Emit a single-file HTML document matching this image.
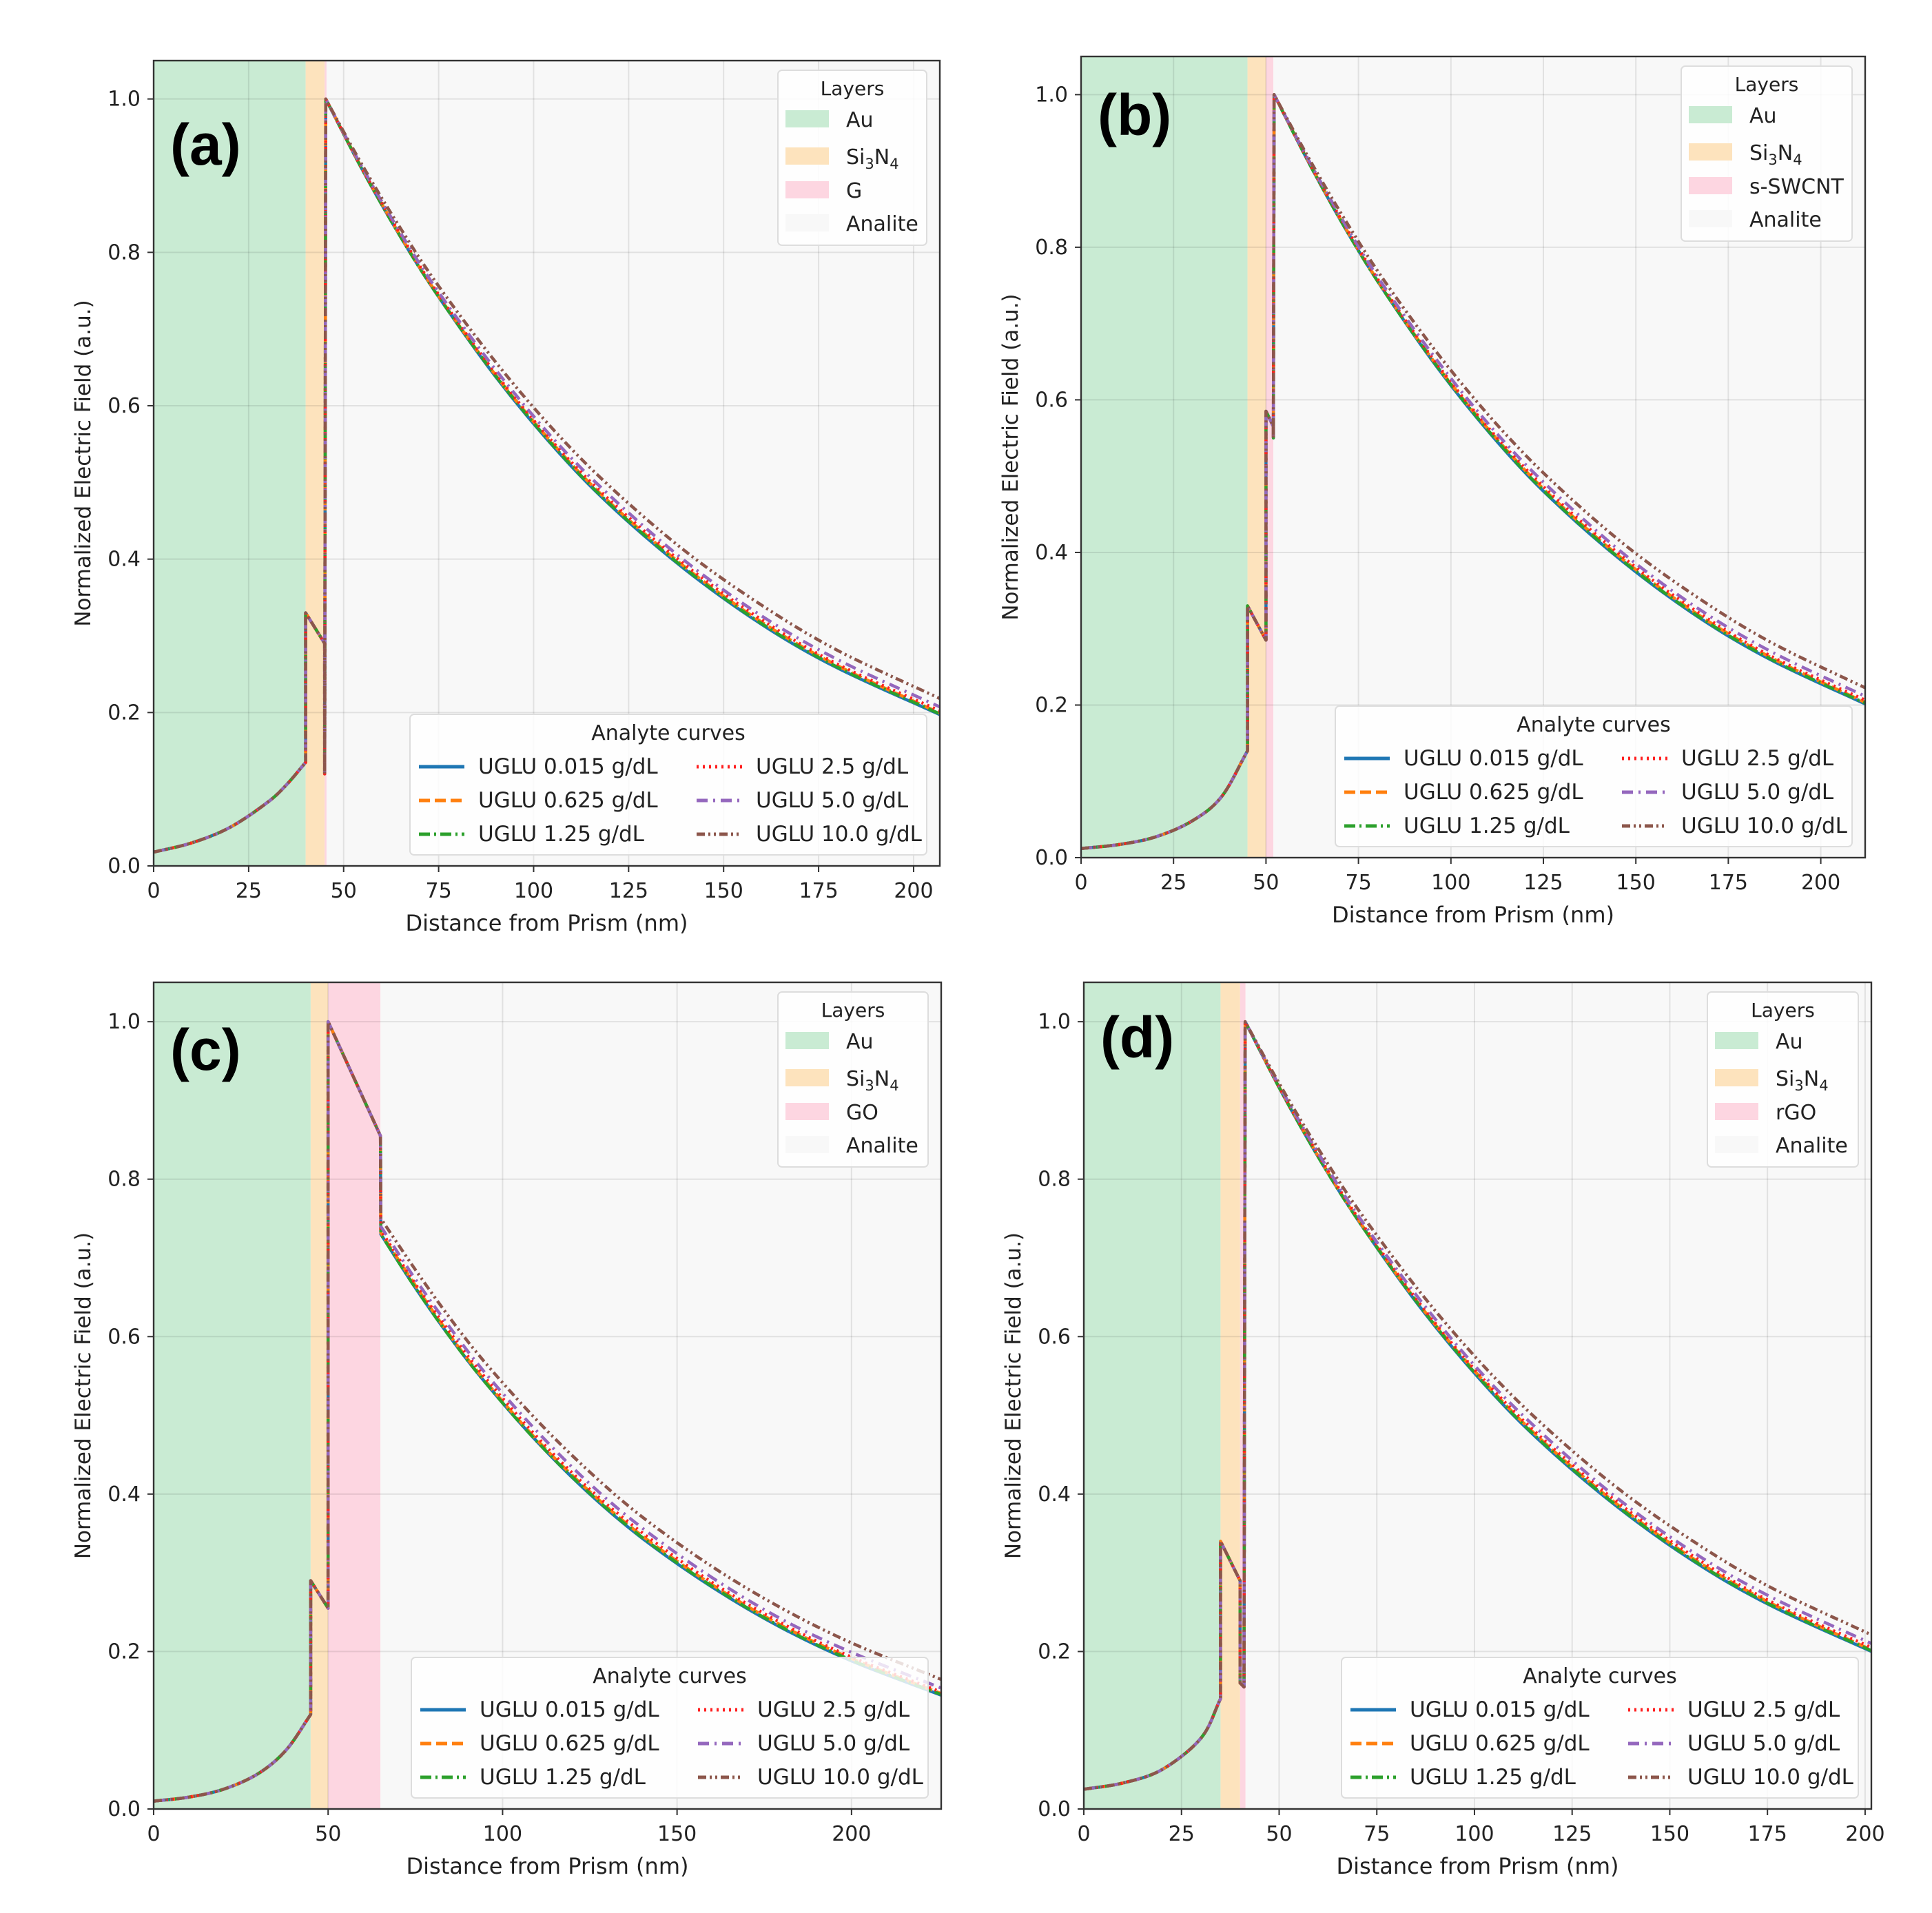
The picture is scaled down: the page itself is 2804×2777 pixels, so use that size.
<!DOCTYPE html>
<html><head><meta charset="utf-8">
<style>
html,body{margin:0;padding:0;background:#fff;}
svg{display:block;}
text{font-family:"DejaVu Sans","Liberation Sans",sans-serif;fill:#222;}
</style></head>
<body>
<svg id="fig" xmlns="http://www.w3.org/2000/svg" width="2804" height="2777" viewBox="0 0 2804 2777"></svg>
<script>
// ---------------- data ----------------
const seriesNames = ["UGLU 0.015 g/dL","UGLU 0.625 g/dL","UGLU 1.25 g/dL","UGLU 2.5 g/dL","UGLU 5.0 g/dL","UGLU 10.0 g/dL"];
const yTicks = [0.0,0.2,0.4,0.6,0.8,1.0];
const yTickLabels = ["0.0","0.2","0.4","0.6","0.8","1.0"];
const decayBlue   = [1,0.907,0.820,0.742,0.638,0.548,0.471,0.386,0.315,0.258,0.197];
const decayOrange = [1,0.908,0.821,0.743,0.640,0.551,0.474,0.389,0.318,0.261,0.199];
const decayGreen  = [1,0.907,0.820,0.742,0.639,0.549,0.472,0.387,0.316,0.259,0.198];
const decayRed    = [1,0.908,0.823,0.745,0.642,0.553,0.477,0.392,0.321,0.263,0.202];
const decayPurple = [1,0.910,0.825,0.748,0.647,0.558,0.483,0.397,0.326,0.269,0.207];
const decayBrown  = [1,0.913,0.831,0.756,0.657,0.570,0.495,0.410,0.340,0.281,0.218];
const cBlue   = [0.730,0.662,0.599,0.542,0.466,0.400,0.344,0.282,0.230,0.188,0.144];
const cOrange = [0.732,0.665,0.601,0.544,0.468,0.403,0.347,0.285,0.233,0.191,0.146];
const cGreen  = [0.730,0.662,0.599,0.542,0.466,0.401,0.345,0.283,0.231,0.189,0.145];
const cRed    = [0.735,0.667,0.605,0.548,0.472,0.406,0.351,0.288,0.236,0.193,0.148];
const cPurple = [0.740,0.673,0.611,0.554,0.479,0.413,0.357,0.294,0.241,0.199,0.153];
const cBrown  = [0.750,0.685,0.623,0.567,0.493,0.428,0.371,0.308,0.255,0.211,0.164];
const aPreX = [0,10,20,30,35,40,40,45,45];
const aPreY = [0.018,0.030,0.050,0.083,0.106,0.135,0.33,0.29,0.12];
const aDecayX = [45.3,55,65,75,90,105,120,140,160,180,207];
const aLayers = [0,40,45,45.5];
const aXTicks = [0,25,50,75,100,125,150,175,200];
const bPreX = [0,10,20,30,38,45,45,50,50,52,52];
const bPreY = [0.012,0.017,0.027,0.048,0.08,0.14,0.33,0.285,0.585,0.565,0.55];
const bDecayX = [52.2,62,72,82,97,112,127,147,167,187,214];
const bLayers = [0,45,50,52];
const bXTicks = [0,25,50,75,100,125,150,175,200];
const cPreX = [0,10,20,30,38,45,45,50,50,65];
const cPreY = [0.010,0.015,0.025,0.045,0.075,0.12,0.29,0.255,1.0,0.855];
const cDecayX = [65.1,75,85,95,110,125,140,160,180,200,226];
const cLayers = [0,45,50,65];
const cXTicks = [0,50,100,150,200];
const dPreX = [0,10,20,30,35,35,40,40,41];
const dPreY = [0.025,0.033,0.050,0.090,0.14,0.34,0.29,0.16,0.155];
const dDecayX = [41.3,51,61,71,86,101,116,136,156,176,203];
const dLayers = [0,35,40,41.4];
const dXTicks = [0,25,50,75,100,125,150,175,200];

const colors = ["#1f77b4","#ff7f0e","#2ca02c","#ff2020","#9467bd","#8c564b"];
const dashes = ["", "16,7", "16,6,3,6", "3,6", "16,8,3,8", "12,5,3,5,3,5"];
const NS = "http://www.w3.org/2000/svg";
const fig = document.getElementById('fig');
function mk(tag, attrs, parent, txt){
  const e = document.createElementNS(NS, tag);
  for (const k in attrs) e.setAttribute(k, attrs[k]);
  if (txt !== undefined) e.textContent = txt;
  (parent||fig).appendChild(e);
  return e;
}

const panels = [
 {id:"a", L:223, R:1364, T:88, B:1257, xmax:206.9, preX:aPreX, preY:aPreY, dx:aDecayX,
  dec:[decayBlue,decayOrange,decayGreen,decayRed,decayPurple,decayBrown], layers:aLayers, xt:aXTicks,
  third:"G", lw:216, letterY:121},
 {id:"b", L:1569, R:2707, T:82, B:1245, xmax:212, preX:bPreX, preY:bPreY, dx:bDecayX,
  dec:[decayBlue,decayOrange,decayGreen,decayRed,decayPurple,decayBrown], layers:bLayers, xt:bXTicks,
  third:"s-SWCNT", lw:248, letterY:84},
 {id:"c", L:223, R:1366, T:1426, B:2626, xmax:225.7, preX:cPreX, preY:cPreY, dx:cDecayX,
  dec:[cBlue,cOrange,cGreen,cRed,cPurple,cBrown], layers:cLayers, xt:cXTicks,
  third:"GO", lw:218, letterY:97},
 {id:"d", L:1573, R:2716, T:1426, B:2626, xmax:201.6, preX:dPreX, preY:dPreY, dx:dDecayX,
  dec:[decayBlue,decayOrange,decayGreen,decayRed,decayPurple,decayBrown], layers:dLayers, xt:dXTicks,
  third:"rGO", lw:219, letterY:79}
];

function pathFrom(pts){
  let d = "M"+pts[0][0].toFixed(1)+","+pts[0][1].toFixed(1);
  const smooth = (i)=> i>=0 && i<pts.length-1 && (pts[i+1][0]-pts[i][0])>6;
  for (let i=0;i<pts.length-1;i++){
    const p0=pts[i], p1=pts[i+1];
    if (!smooth(i)){ d += "L"+p1[0].toFixed(1)+","+p1[1].toFixed(1); continue; }
    const pa = smooth(i-1)?pts[i-1]:p0;
    const pb = smooth(i+1)?pts[i+2]:p1;
    const f0 = (pa===p0)?3:6, f1=(pb===p1)?3:6;
    const c1=[p0[0]+(p1[0]-pa[0])/f0, p0[1]+(p1[1]-pa[1])/f0];
    const c2=[p1[0]-(pb[0]-p0[0])/f1, p1[1]-(pb[1]-p0[1])/f1];
    d += "C"+c1[0].toFixed(1)+","+c1[1].toFixed(1)+" "+c2[0].toFixed(1)+","+c2[1].toFixed(1)+" "+p1[0].toFixed(1)+","+p1[1].toFixed(1);
  }
  return d;
}

panels.forEach(P=>{
  const ymax = 1.05;
  const sx = v => P.L + (v/P.xmax)*(P.R-P.L);
  const sy = v => P.B - (v/ymax)*(P.B-P.T);
  const g = mk('g',{});
  
  
  const clipId = 'clip'+P.id;
  const cp = mk('clipPath',{id:clipId}, g);
  mk('rect',{x:P.L,y:P.T,width:P.R-P.L,height:P.B-P.T}, cp);
  const bandCols = ["#c9ebd3","#fde3bd","#fdd6e1","#f8f8f8"];
  const bandNames = ["au-band","si3n4-band","third-layer-band","analyte-band"];
  const edges = [P.layers[0],P.layers[1],P.layers[2],P.layers[3],P.xmax];
  for (let i=0;i<4;i++){
    const r = mk('rect',{x:sx(edges[i]),y:P.T,width:Math.max(0,sx(edges[i+1])-sx(edges[i])),height:P.B-P.T,fill:bandCols[i]}, g);
    
    
  }
  P.xt.forEach(t=>{ mk('line',{x1:sx(t),x2:sx(t),y1:P.T,y2:P.B,stroke:"#000","stroke-opacity":0.09,"stroke-width":2}, g); });
  yTicks.forEach(t=>{ mk('line',{x1:P.L,x2:P.R,y1:sy(t),y2:sy(t),stroke:"#000","stroke-opacity":0.09,"stroke-width":2}, g); });
  const sg = mk('g',{"clip-path":"url(#"+clipId+")"}, g);
  for (let s=0;s<6;s++){
    const pts = [];
    for (let i=0;i<P.preX.length;i++) pts.push([sx(P.preX[i]), sy(P.preY[i])]);
    for (let i=0;i<P.dx.length;i++) pts.push([sx(P.dx[i]), sy(P.dec[s][i])]);
    const attrs = {d:pathFrom(pts),fill:"none",stroke:colors[s],"stroke-width":4.5,"stroke-linejoin":"round"};
    if (dashes[s]) attrs["stroke-dasharray"]=dashes[s];
    const p = mk('path',attrs, sg);
    
    
  }
  const sp = mk('rect',{x:P.L,y:P.T,width:P.R-P.L,height:P.B-P.T,fill:"none",stroke:"#333","stroke-width":2.4}, g);
  
  
  P.xt.forEach(t=>{
    mk('line',{x1:sx(t),x2:sx(t),y1:P.B,y2:P.B+9,stroke:"#333","stroke-width":2}, g);
    const tx = mk('text',{x:sx(t),y:P.B+46,"font-size":30,"text-anchor":"middle"}, g, String(t));
    
    
  });
  yTicks.forEach((t,i)=>{
    mk('line',{x1:P.L-9,x2:P.L,y1:sy(t),y2:sy(t),stroke:"#333","stroke-width":2}, g);
    const tx = mk('text',{x:P.L-19,y:sy(t)+10,"font-size":30,"text-anchor":"end"}, g, yTickLabels[i]);
    
    
  });
  const xl = mk('text',{x:(P.L+P.R)/2,y:P.B+94,"font-size":32,"text-anchor":"middle"}, g, "Distance from Prism (nm)");
  
  
  const cy=(P.T+P.B)/2, cx=P.L-102;
  const yl = mk('text',{x:cx,y:cy,"font-size":31,"text-anchor":"middle","dominant-baseline":"central",transform:"rotate(-90 "+cx+" "+cy+")"}, g, "Normalized Electric Field (a.u.)");
  
  
  const lt = mk('text',{x:P.L+24,y:P.T+P.letterY+30,"font-size":84,"font-weight":"bold",style:"font-family:'Liberation Sans',sans-serif;fill:#000"}, g, "("+P.id+")");
  
  

  const lx = P.R-19-P.lw, ly = P.T+14;
  const lg = mk('g',{}, g);
  
  
  mk('rect',{x:lx,y:ly,width:P.lw,height:254,rx:6,fill:"#fff","fill-opacity":0.85,stroke:"#ddd","stroke-width":2}, lg);
  mk('text',{x:lx+P.lw/2,y:ly+36,"font-size":28,"text-anchor":"middle"}, lg, "Layers");
  const rowsY=[71,125,174,222];
  for (let i=0;i<4;i++){
    mk('rect',{x:lx+11,y:ly+rowsY[i]-13,width:63,height:25,fill:bandCols[i]}, lg);
    if (i===1){
      const t = mk('text',{x:lx+99,y:ly+rowsY[i]+11,"font-size":30}, lg);
      
      
      t.innerHTML = 'Si<tspan font-size="21" dy="7">3</tspan><tspan dy="-7">N</tspan><tspan font-size="21" dy="7">4</tspan>';
    } else {
      const t = mk('text',{x:lx+99,y:ly+rowsY[i]+11,"font-size":30}, lg, ["Au","",P.third,"Analite"][i]);
      
      
    }
  }
  const aw=750, ah=204, ax=P.R-19-aw, ay=P.B-16-ah;
  const ag = mk('g',{}, g);
  
  
  mk('rect',{x:ax,y:ay,width:aw,height:ah,rx:6,fill:"#fff","fill-opacity":0.82,stroke:"#ddd","stroke-width":2}, ag);
  mk('text',{x:ax+aw/2,y:ay+37,"font-size":30,"text-anchor":"middle"}, ag, "Analyte curves");
  const rY=[76,125,174];
  for (let s=0;s<6;s++){
    const col = Math.floor(s/3), row=s%3;
    const x0 = ax + (col? 416:13);
    const la = {x1:x0,x2:x0+66,y1:ay+rY[row],y2:ay+rY[row],stroke:colors[s],"stroke-width":5};
    if (dashes[s]) la["stroke-dasharray"]=dashes[s];
    mk('line',la,ag);
    const t = mk('text',{x:x0+86,y:ay+rY[row]+10,"font-size":31}, ag, seriesNames[s]);
    
    
  }
});
</script>
</body></html>
